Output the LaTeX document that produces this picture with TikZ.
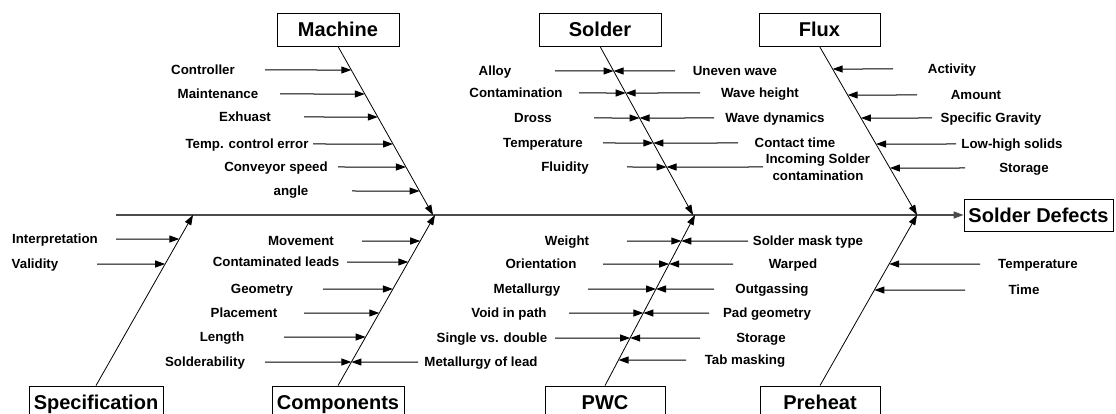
\documentclass[tikz,border=0pt]{standalone}
\usepackage{fontspec}
\setmainfont{Liberation Sans}
\usetikzlibrary{arrows.meta}

\tikzset{
    cause/.style={draw, line width=0.8pt, minimum height=33pt, inner sep=0pt,
        font=\fontsize{20}{22}\selectfont\bfseries, text height=14.3pt, text depth=0pt},
    lbl/.style={inner sep=0pt, font=\fontsize{13.3}{15}\selectfont\bfseries,
        text height=9.5pt, text depth=0pt},
    lbltwo/.style={inner sep=0pt, align=center, font=\fontsize{13.3}{17}\selectfont\bfseries},
    bone/.style={line width=0.8pt, -{Triangle[length=10pt,width=7pt]}},
    sub/.style={line width=1pt, black, -{Triangle[length=10pt,width=7pt]}},
    spine/.style={line width=1.3pt, black!70, -{Triangle[length=10pt,width=7pt]}},
}

\begin{document}
\begin{tikzpicture}[x=1pt, y=-1pt]
    \useasboundingbox (0,0) rectangle (1116,414);

    % Define the cause boxes
    \node[cause, minimum width=122pt] (mach) at (338, 29.5) {Machine};
    \node[cause, minimum width=122pt] (sold) at (600, 29.5) {Solder};
    \node[cause, minimum width=121pt] (flux) at (819.5, 29.5) {Flux};
    \node[cause, minimum width=134pt] (spec) at (96, 402.5) {Specification};
    \node[cause, minimum width=132pt] (comp) at (338, 402.5) {Components};
    \node[cause, minimum width=120pt] (pwc) at (605, 402.5) {PWC};
    \node[cause, minimum width=120pt] (preh) at (820, 402.5) {Preheat};
    \node[cause, minimum width=149pt, minimum height=32pt] (defects) at (1038.5, 215) {Solder Defects};

    % Ends of the bones on the spine
    \coordinate (spine-s) at (116, 215);
    \coordinate (mach-e) at (433, 215);
    \coordinate (sold-e) at (693, 215);
    \coordinate (flux-e) at (917, 215);
    \coordinate (spec-e) at (193, 215);
    \coordinate (comp-e) at (435, 215);
    \coordinate (pwc-e) at (695, 215);
    \coordinate (preh-e) at (917, 215);

    % Draw the spine and the bones
    \draw[spine] (spine-s) -- (defects.west);
    \draw[bone] (mach.south) -- (mach-e);
    \draw[bone] (sold.south) -- (sold-e);
    \draw[bone] (flux.south) -- (flux-e);
    \draw[bone] (spec.north) -- (spec-e);
    \draw[bone] (comp.north) -- (comp-e);
    \draw[bone] (pwc.north) -- (pwc-e);
    \draw[bone] (preh.north) -- (preh-e);

    % Machine
    \foreach \y/\xt/\xl/\txt [count=\i] in {70/265/203/Controller, 94/280/218/Maintenance,
        117/304/245/Exhuast, 144/313/247/Temp. control error, 167/338/276/Conveyor speed,
        191/352/291/angle} {
        \node[lbl] (mach-l\i) at (\xl, \y) {\txt};
        \coordinate (mach-l\i-t) at (\xt, \y);
        \coordinate (mach-l\i-h) at (intersection of mach.south--mach-e and 0,\y--1,\y);
        \draw[sub] (mach-l\i-t) -- (mach-l\i-h);
    }

    % Solder
    \foreach \y/\xt/\xl/\txt [count=\i] in {71/555/495/Alloy, 93/579/516/Contamination,
        118/594/533/Dross, 143/603/543/Temperature, 167/627/565/Fluidity} {
        \node[lbl] (sold-l\i) at (\xl, \y) {\txt};
        \coordinate (sold-l\i-t) at (\xt, \y);
        \coordinate (sold-l\i-h) at (intersection of sold.south--sold-e and 0,\y--1,\y);
        \draw[sub] (sold-l\i-t) -- (sold-l\i-h);
    }
    \foreach \y/\xt/\xl/\txt [count=\i] in {71/675/735/Uneven wave, 93/700/760/Wave height,
        118/714/775/Wave dynamics, 143/738/795/Contact time} {
        \node[lbl] (sold-r\i) at (\xl, \y) {\txt};
        \coordinate (sold-r\i-t) at (\xt, \y);
        \coordinate (sold-r\i-h) at (intersection of sold.south--sold-e and 0,\y--1,\y);
        \draw[sub] (sold-r\i-t) -- (sold-r\i-h);
    }
    \node[lbltwo] (sold-r5) at (818, 167) {Incoming Solder\\contamination};
    \coordinate (sold-r5-t) at (763, 167);
    \coordinate (sold-r5-h) at (intersection of sold.south--sold-e and 0,167--1,167);
    \draw[sub] (sold-r5-t) -- (sold-r5-h);

    % Flux
    \foreach \y/\xt/\xl/\txt [count=\i] in {69/893/952/Activity, 95/917/976/Amount,
        118/932/991/Specific Gravity, 144/956/1012/Low-high solids, 168/965/1024/Storage} {
        \node[lbl] (flux-r\i) at (\xl, \y) {\txt};
        \coordinate (flux-r\i-t) at (\xt, \y);
        \coordinate (flux-r\i-h) at (intersection of flux.south--flux-e and 0,\y--1,\y);
        \draw[sub] (flux-r\i-t) -- (flux-r\i-h);
    }

    % Specification
    \foreach \y/\xt/\xl/\txt [count=\i] in {239/116/55/Interpretation, 264/97/35/Validity} {
        \node[lbl] (spec-l\i) at (\xl, \y) {\txt};
        \coordinate (spec-l\i-t) at (\xt, \y);
        \coordinate (spec-l\i-h) at (intersection of spec.north--spec-e and 0,\y--1,\y);
        \draw[sub] (spec-l\i-t) -- (spec-l\i-h);
    }

    % Components
    \foreach \y/\xt/\xl/\txt [count=\i] in {241/362/301/Movement, 262/347/276/Contaminated leads,
        289/323/262/Geometry, 313/304/244/Placement, 337/284/222/Length,
        362/265/205/Solderability, 362/418/481/Metallurgy of lead} {
        \node[lbl] (comp-c\i) at (\xl, \y) {\txt};
        \coordinate (comp-c\i-t) at (\xt, \y);
        \coordinate (comp-c\i-h) at (intersection of comp.north--comp-e and 0,\y--1,\y);
        \draw[sub] (comp-c\i-t) -- (comp-c\i-h);
    }

    % PWC
    \foreach \y/\xt/\xl/\txt [count=\i] in {241/627/567/Weight, 264/603/541/Orientation,
        289/588/527/Metallurgy, 313/569/509/Void in path, 338/555/492/Single vs. double} {
        \node[lbl] (pwc-l\i) at (\xl, \y) {\txt};
        \coordinate (pwc-l\i-t) at (\xt, \y);
        \coordinate (pwc-l\i-h) at (intersection of pwc.north--pwc-e and 0,\y--1,\y);
        \draw[sub] (pwc-l\i-t) -- (pwc-l\i-h);
    }
    \foreach \y/\xt/\xl/\txt [count=\i] in {241/748/808/Solder mask type, 264/733/793/Warped,
        289/714/772/Outgassing, 313/709/767/Pad geometry, 338/700/761/Storage,
        360/686/745/Tab masking} {
        \node[lbl] (pwc-r\i) at (\xl, \y) {\txt};
        \coordinate (pwc-r\i-t) at (\xt, \y);
        \coordinate (pwc-r\i-h) at (intersection of pwc.north--pwc-e and 0,\y--1,\y);
        \draw[sub] (pwc-r\i-t) -- (pwc-r\i-h);
    }

    % Preheat
    \foreach \y/\xt/\xl/\txt [count=\i] in {264/980/1038/Temperature, 290/965/1024/Time} {
        \node[lbl] (preh-r\i) at (\xl, \y) {\txt};
        \coordinate (preh-r\i-t) at (\xt, \y);
        \coordinate (preh-r\i-h) at (intersection of preh.north--preh-e and 0,\y--1,\y);
        \draw[sub] (preh-r\i-t) -- (preh-r\i-h);
    }
\end{tikzpicture}
\end{document}
